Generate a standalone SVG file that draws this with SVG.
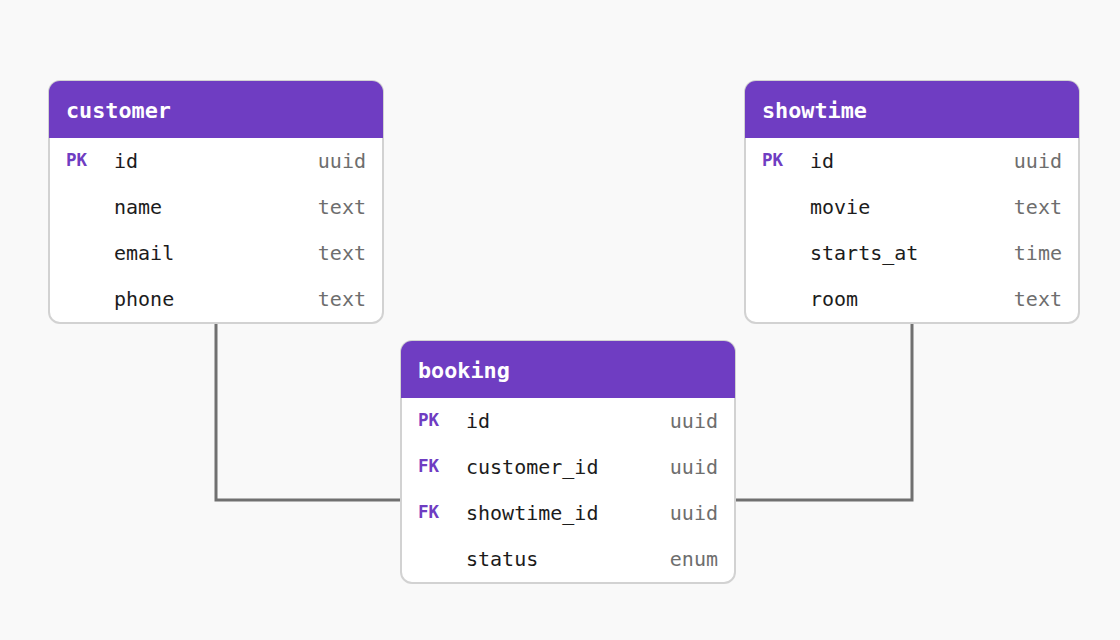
<svg xmlns="http://www.w3.org/2000/svg" width="1120" height="640" viewBox="0 0 1120 640">
<style>
.card{fill:#ffffff;stroke:#d2d2d2;stroke-width:2}
.hdr{fill:#6f3dc2}
.title{font-family:"DejaVu Sans Mono","Liberation Mono",monospace;font-size:21.8px;font-weight:bold;fill:#ffffff}
.key{font-family:"DejaVu Sans Mono","Liberation Mono",monospace;font-size:17.5px;font-weight:bold;fill:#6f3dc2}
.col{font-family:"DejaVu Sans Mono","Liberation Mono",monospace;font-size:20px;fill:#1c1c1c}
.typ{font-family:"DejaVu Sans Mono","Liberation Mono",monospace;font-size:20px;fill:#6e6e6e;text-anchor:end}
.conn{fill:none;stroke:#707070;stroke-width:3}
</style>
<rect width="1120" height="640" fill="#f9f9f9"/>
<g id="connectors">
<path class="conn" d="M216 323 V500 H401"/>
<path class="conn" d="M912 323 V500 H735"/>
</g>
<g id="customer">
<rect class="card" x="49" y="81" width="334" height="242" rx="11"/>
<path class="hdr" d="M49 138 V92 A11 11 0 0 1 60 81 H372 A11 11 0 0 1 383 92 V138 Z"/>
<text class="title" x="66" y="118">customer</text>
<text class="key" x="66" y="166">PK</text>
<text class="col" x="114" y="168">id</text><text class="typ" x="366" y="168">uuid</text>
<text class="col" x="114" y="214">name</text><text class="typ" x="366" y="214">text</text>
<text class="col" x="114" y="260">email</text><text class="typ" x="366" y="260">text</text>
<text class="col" x="114" y="306">phone</text><text class="typ" x="366" y="306">text</text>
</g>
<g id="showtime">
<rect class="card" x="745" y="81" width="334" height="242" rx="11"/>
<path class="hdr" d="M745 138 V92 A11 11 0 0 1 756 81 H1068 A11 11 0 0 1 1079 92 V138 Z"/>
<text class="title" x="762" y="118">showtime</text>
<text class="key" x="762" y="166">PK</text>
<text class="col" x="810" y="168">id</text><text class="typ" x="1062" y="168">uuid</text>
<text class="col" x="810" y="214">movie</text><text class="typ" x="1062" y="214">text</text>
<text class="col" x="810" y="260">starts_at</text><text class="typ" x="1062" y="260">time</text>
<text class="col" x="810" y="306">room</text><text class="typ" x="1062" y="306">text</text>
</g>
<g id="booking">
<rect class="card" x="401" y="341" width="334" height="242" rx="11"/>
<path class="hdr" d="M401 398 V352 A11 11 0 0 1 412 341 H724 A11 11 0 0 1 735 352 V398 Z"/>
<text class="title" x="418" y="378">booking</text>
<text class="key" x="418" y="426">PK</text>
<text class="col" x="466" y="428">id</text><text class="typ" x="718" y="428">uuid</text>
<text class="key" x="418" y="472">FK</text>
<text class="col" x="466" y="474">customer_id</text><text class="typ" x="718" y="474">uuid</text>
<text class="key" x="418" y="518">FK</text>
<text class="col" x="466" y="520">showtime_id</text><text class="typ" x="718" y="520">uuid</text>
<text class="col" x="466" y="566">status</text><text class="typ" x="718" y="566">enum</text>
</g>
</svg>
